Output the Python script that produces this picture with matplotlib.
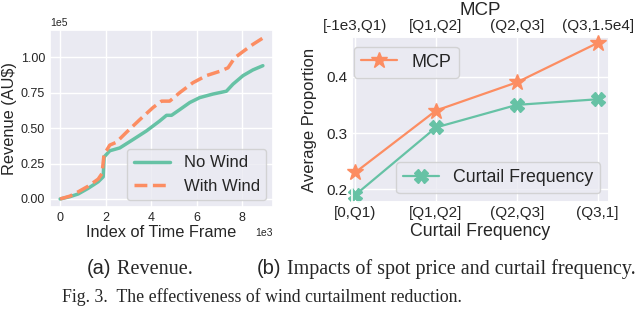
import matplotlib
matplotlib.use("Agg")
import matplotlib.pyplot as plt
import seaborn as sns

sns.set_theme(style="darkgrid")
plt.rcParams['font.family'] = ['Liberation Sans', 'DejaVu Sans']

GREEN = "#66c2a5"
ORANGE = "#fc8d62"

# ---- (a) Revenue data (x in time-frame index, y in AU$) ----
x_no_wind = [0, 430, 790, 1230, 1670, 1890, 1930, 2180, 2620, 3210, 3790, 4370,
             4670, 4890, 5250, 5690, 6130, 6710, 7300, 7590, 8030, 8460, 8900]
rev_no_wind = [0, 1600, 3500, 7500, 12100, 15600, 29600, 34000, 36000, 42000, 48000,
               55000, 59000, 59000, 63000, 68000, 71500, 74000, 76000, 81000, 87000,
               91000, 94000]
x_with_wind = [0, 430, 790, 1230, 1670, 1840, 1930, 2030, 2180, 2470, 2910, 3500,
               4080, 4450, 4810, 5250, 5830, 6420, 7000, 7370, 7660, 8030, 8460, 8900]
rev_with_wind = [0, 2000, 5000, 9000, 14000, 18000, 32000, 34000, 38000, 40000, 47000,
                 56000, 64500, 69000, 69000, 75000, 82000, 87000, 90000, 92500, 99500,
                 104000, 109000, 113500]

# ---- (b) Impacts data ----
cf_labels = ["[0,Q1)", "[Q1,Q2]", "(Q2,Q3]", "(Q3,1]"]
mcp_labels = ["[-1e3,Q1)", "[Q1,Q2]", "(Q2,Q3]", "(Q3,1.5e4]"]
mcp_values = [0.23, 0.34, 0.39, 0.46]
cf_values = [0.19, 0.31, 0.35, 0.36]

W, H = 640, 317
fig = plt.figure(figsize=(6.4, 3.17), dpi=100)

# ---------------- (a) ----------------
ax1 = fig.add_axes([50 / W, 1 - 207 / H, 223 / W, 177 / H])
ax1.plot(x_no_wind, rev_no_wind, color=GREEN, lw=2.5, label="No Wind")
ax1.plot(x_with_wind, rev_with_wind, color=ORANGE, lw=2.5, ls="--", label="With Wind")
ax1.ticklabel_format(style="sci", axis="both", scilimits=(0, 0))
ax1.set_xticks([0, 2000, 4000, 6000, 8000])
ax1.set_yticks([0, 25000, 50000, 75000, 100000])
ax1.tick_params(labelsize=9, pad=3.5, length=0)
ax1.xaxis.get_offset_text().set_fontsize(7.5)
ax1.yaxis.get_offset_text().set_fontsize(7.5)
ax1.set_xlabel("Index of Time Frame", fontsize=11.8, labelpad=1)
ax1.set_ylabel(r"Revenue (AU\$)", fontsize=11.8, labelpad=3)
ax1.legend(loc="lower right", fontsize=12, handlelength=2.2, borderaxespad=0.4)

# ---------------- (b) ----------------
ax2 = fig.add_axes([352 / W, 1 - 202.3 / H, 257 / W, 165 / H])
pos = list(range(len(cf_labels)))
l_cf, = ax2.plot(pos, cf_values, color=GREEN, marker="X", markersize=10, lw=1.6,
                 label="Curtail Frequency", clip_on=False, zorder=3)
ax2.set_xlim(-0.04, 3.14)
ax2.set_ylim(0.177, 0.470)
ax2.set_yticks([0.2, 0.3, 0.4])
ax2.set_xticks(pos)
ax2.set_xticklabels(cf_labels)
ax2.tick_params(labelsize=11, pad=3, length=0)
ax2.set_xlabel("Curtail Frequency", fontsize=12.8, labelpad=2)
ax2.set_ylabel("Average Proportion", fontsize=12, labelpad=7)

ax3 = ax2.twiny()
l_mcp, = ax3.plot(pos, mcp_values, color=ORANGE, marker="*", markersize=12, lw=1.6,
                  label="MCP", clip_on=False, zorder=3)
ax3.set_xlim(ax2.get_xlim())
ax3.set_xticks(pos)
ax3.set_xticklabels(mcp_labels)
ax3.tick_params(labelsize=11, pad=3, length=0)
ax3.grid(False)
ax3.set_xlabel("MCP", fontsize=13.5, labelpad=3)

ax3.legend(handles=[l_mcp], loc="upper left", fontsize=13, bbox_to_anchor=(0.0, 0.955),
           borderaxespad=0.1)
ax2.legend(handles=[l_cf], loc="lower right", fontsize=12.8, borderaxespad=0.5)

# ---------------- captions ----------------
renderer = fig.canvas.get_renderer()


def caption(x_px, y_px, parts, size):
    x = x_px
    for txt, fam in parts:
        t = fig.text(x / W, 1 - y_px / H, txt, fontsize=size, family=fam, va="center")
        bb = t.get_window_extent(renderer)
        x += bb.width


fs1 = 14.5
caption(87, 269, [("(a)", "Liberation Sans"), (" Revenue.", "Liberation Serif")], fs1)
caption(257, 269, [("(b)", "Liberation Sans"),
                   (" Impacts of spot price and curtail frequency.", "Liberation Serif")], fs1)
fig.text(62 / W, 1 - 297 / H,
         "Fig. 3.  The effectiveness of wind curtailment reduction.", fontsize=12.8,
         family="Liberation Serif", va="center")

fig.savefig("out.png", dpi=100)
